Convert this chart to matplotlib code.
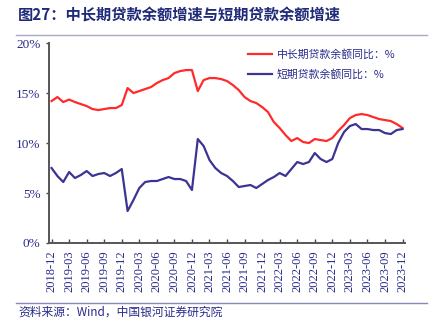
import matplotlib.pyplot as plt
from matplotlib.lines import Line2D

plt.rcParams['font.family'] = ['Noto Sans CJK SC', 'DejaVu Sans']

# months 2018-12 .. 2023-12
months = list(range(61))
tick_labels = [f"{2018 + (11 + i) // 12}-{(11 + i) % 12 + 1:02d}" for i in range(0, 61, 3)]

long_term = [14.2, 14.6, 14.1, 14.35, 14.1, 13.9, 13.7, 13.4, 13.3, 13.4,
             13.5, 13.5, 13.8, 15.5, 15.0, 15.2, 15.4, 15.6, 16.0, 16.3,
             16.5, 17.0, 17.2, 17.3, 17.3, 15.2, 16.3, 16.5, 16.5, 16.4,
             16.2, 15.8, 15.3, 14.6, 14.2, 14.0, 13.6, 13.1, 12.1, 11.5,
             10.8, 10.2, 10.5, 10.1, 10.0, 10.4, 10.3, 10.2, 10.5, 11.2,
             11.8, 12.5, 12.8, 12.9, 12.8, 12.6, 12.4, 12.3, 12.2, 11.9,
             11.5]
short_term = [7.5, 6.7, 6.1, 7.1, 6.5, 6.8, 7.2, 6.7, 6.9, 7.0,
              6.7, 7.0, 7.4, 3.2, 4.3, 5.5, 6.1, 6.2, 6.2, 6.4,
              6.6, 6.4, 6.4, 6.2, 5.3, 10.4, 9.7, 8.3, 7.5, 7.0,
              6.7, 6.2, 5.6, 5.7, 5.8, 5.5, 5.9, 6.3, 6.6, 7.0,
              6.7, 7.4, 8.1, 7.9, 8.1, 9.0, 8.4, 8.1, 8.4, 10.0,
              11.1, 11.7, 11.9, 11.4, 11.4, 11.3, 11.3, 11.0, 10.9, 11.3,
              11.4]
series_names = ['中长期贷款余额同比：%', '短期贷款余额同比：%']

navy = '#2a2a8a'
fig = plt.figure(figsize=(4.33, 3.34), dpi=100)
ax = fig.add_axes([0.113, 0.2725, 0.822, 0.5985])

ax.plot(months, long_term, color='#ff2b2b', lw=1.6, label=series_names[0])
ax.plot(months, short_term, color='#3c3494', lw=1.6, label=series_names[1])

ax.set_xlim(-0.45, 60.4)
ax.set_ylim(0, 20)
ax.set_yticks([0, 5, 10, 15, 20])
ax.set_yticklabels([f"{v}%" for v in [0, 5, 10, 15, 20]],
                   family='Liberation Serif', fontsize=9.5, color=navy)
ax.set_xticks(range(0, 61, 3))
ax.set_xticklabels(tick_labels, rotation=90, family='Liberation Serif',
                   fontsize=9, color=navy)
ax.tick_params(axis='x', direction='in', length=3, width=1, color='#444444', pad=5)
ax.tick_params(axis='y', direction='out', length=2, width=1, color='#444444', pad=4)
for s in ['top', 'right']:
    ax.spines[s].set_visible(False)
for s in ['left', 'bottom']:
    ax.spines[s].set_color('#555555')
    ax.spines[s].set_linewidth(1.4)

leg = ax.legend(loc='upper right', bbox_to_anchor=(1.0, 1.02), frameon=False,
                fontsize=7.8, handlelength=2.2, handletextpad=0.4, labelspacing=0.9)
for t in leg.get_texts():
    t.set_color(navy)

fig.text(0.042, 0.953, '图27：中长期贷款余额增速与短期贷款余额增速', fontsize=11,
         fontweight='bold', color='#1f2a78', va='center', ha='left')
fig.add_artist(Line2D([0.037, 0.985], [0.895, 0.895], color='#a8a8c8', lw=1))
fig.add_artist(Line2D([0.037, 0.985], [0.094, 0.094], color='#8888b8', lw=1))
fig.text(0.042, 0.065, '资料来源：Wind，中国银河证券研究院', fontsize=8.5,
         style='italic', color=navy, va='center', ha='left')

fig.savefig('out.png', dpi=100)
